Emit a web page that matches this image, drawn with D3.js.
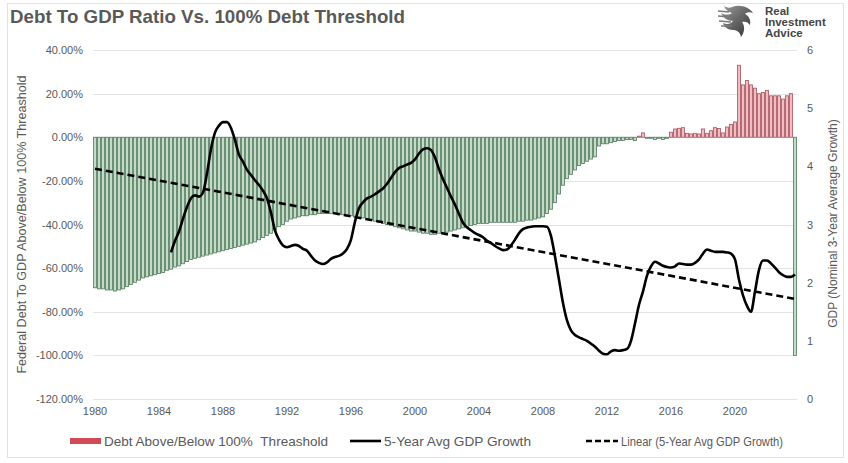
<!DOCTYPE html>
<html>
<head>
<meta charset="utf-8">
<script src="https://cdn.jsdelivr.net/npm/d3@7"></script>
<style>
  html, body { margin: 0; padding: 0; background: #fff; }
  svg { display: block; font-family: "Liberation Sans", Arial, sans-serif; }
</style>
</head>
<body>
<svg id="chart" width="848" height="463"></svg>
<script>
// ---------------- DATA ----------------
const startYear = 1980;
const quarterCount = 176; // 1980Q1 .. 2023Q4
const xTickLabels = ["1980","1984","1988","1992","1996","2000","2004","2008","2012","2016","2020"];
const leftTicks = [40, 20, 0, -20, -40, -60, -80, -100, -120];
const rightTicks = [0, 1, 2, 3, 4, 5, 6];

// Debt above/below 100% threshold (%), quarterly 1980Q1 - 2023Q4
const debtVsThreshold = [
  -69, -69.5, -69.5, -70,      // 1980
  -70, -70.5, -70, -69.5,      // 1981
  -68.5, -67.5, -66.5, -65.5,  // 1982
  -64.5, -64, -63.5, -63,      // 1983
  -62.5, -62, -61, -60.5,      // 1984
  -59.5, -59, -58, -57,        // 1985
  -56, -55.5, -55, -54.5,      // 1986
  -54, -53.5, -53, -52.5,      // 1987
  -52, -51.5, -51, -50.5,      // 1988
  -50, -49.5, -49, -48.5,      // 1989
  -48, -47, -46, -45,          // 1990
  -44, -42.5, -41, -40,        // 1991
  -38.5, -37.5, -37, -36.5,    // 1992
  -36, -36, -35.5, -35.5,      // 1993
  -35, -35, -35, -35,          // 1994
  -35, -35.5, -35.5, -36,      // 1995
  -36, -36.5, -37, -37,        // 1996
  -37.5, -38, -38.5, -39,      // 1997
  -39.5, -40, -40.5, -41,      // 1998
  -41.5, -42, -42.5, -43,      // 1999
  -43, -43.5, -44, -44,        // 2000
  -44.5, -44.5, -44, -44,      // 2001
  -43.5, -43, -42.5, -42,      // 2002
  -41.5, -41, -40.5, -40,      // 2003
  -39.5, -39.5, -39.5, -39,    // 2004
  -39, -39, -39, -39,          // 2005
  -39, -39, -38.5, -38.5,      // 2006
  -38, -38, -37.5, -37,        // 2007
  -36.5, -35, -33, -30,        // 2008
  -26, -22, -19, -17,          // 2009
  -15, -13, -12, -11,          // 2010
  -10, -9, -4, -3,             // 2011
  -3, -2.5, -2, -1.5,          // 2012
  -1.5, -1, -1, -1.5,          // 2013
  0.5, 2, -0.5, -0.5,          // 2014
  -1, -0.5, -1, -0.5,          // 2015
  2.3, 3.8, 4.1, 4.4,          // 2016
  1.8, 1.5, 1.8, 1.5,          // 2017
  3.8, 1.8, 3, 4.4,            // 2018
  4, 2, 4.7, 5.9,              // 2019
  7, 33, 24, 26,               // 2020
  24, 22.5, 20, 20.5,          // 2021
  21.5, 19, 19, 19,            // 2022
  17.5, 19, 20, -100           // 2023
];

// 5-Year Avg GDP Growth, quarterly starting 1984Q4 (index 19)
const gdpStartIndex = 19;
const gdpGrowth = [
  2.52, 2.72, 2.88, 3.10, 3.30, 3.45, 3.50, 3.48, 3.55, 3.88,
  4.30, 4.58, 4.70, 4.76, 4.76, 4.66, 4.45, 4.20, 4.08, 3.94,
  3.85, 3.76, 3.68, 3.58, 3.45, 3.20, 2.90, 2.74, 2.64, 2.61,
  2.63, 2.65, 2.63, 2.58, 2.55, 2.46, 2.38, 2.34, 2.32, 2.35,
  2.41, 2.44, 2.46, 2.50, 2.58, 2.74, 3.05, 3.28, 3.38, 3.45,
  3.48, 3.52, 3.57, 3.62, 3.70, 3.80, 3.90, 3.97, 4.00, 4.03,
  4.06, 4.12, 4.22, 4.29, 4.31, 4.28, 4.15, 3.95, 3.78, 3.63,
  3.48, 3.34, 3.18, 3.03, 2.95, 2.90, 2.85, 2.82, 2.78, 2.72,
  2.68, 2.63, 2.59, 2.56, 2.57, 2.64, 2.74, 2.85, 2.92, 2.95,
  2.96, 2.97, 2.97, 2.97, 2.96, 2.80, 2.45, 2.05, 1.65, 1.35,
  1.18, 1.10, 1.06, 1.03, 1.00, 0.95, 0.90, 0.83, 0.78, 0.77,
  0.82, 0.84, 0.83, 0.84, 0.86, 1.00, 1.30, 1.62, 1.85, 2.12,
  2.28, 2.36, 2.33, 2.29, 2.27, 2.26, 2.28, 2.33, 2.32, 2.31,
  2.31, 2.34, 2.40, 2.50, 2.57, 2.55, 2.53, 2.53, 2.53, 2.52,
  2.50, 2.40, 2.05, 1.78, 1.60, 1.50, 1.85, 2.22, 2.38, 2.38,
  2.33, 2.26, 2.18, 2.13, 2.10, 2.10, 2.14
];

// Linear trend (5-Year Avg GDP Growth), values at first and last category
const trendEnds = [3.96, 1.72];

// Legend labels
const legendLabels = ["Debt Above/Below 100%\u00a0\u00a0Threashold", "5-Year Avg GDP Growth", "Linear (5-Year Avg GDP Growth)"];

// ---------------- BUILD ----------------
const categories = d3.range(quarterCount).map(i => `${startYear + Math.floor(i / 4)}Q${i % 4 + 1}`);
const svg = d3.select("#chart");
const W = 848, H = 463;
const plot = { left: 93, right: 797, top: 50, bottom: 399 };
const FONT = "Liberation Sans, Arial, sans-serif";

svg.append("rect").attr("x", 0).attr("y", 0).attr("width", W).attr("height", H).attr("fill", "#fff");
svg.append("rect").attr("x", 7.5).attr("y", 3.5).attr("width", 836).attr("height", 454)
  .attr("fill", "none").attr("stroke", "#e2e2e2").attr("stroke-width", 1);

const x = d3.scaleBand().domain(categories).range([plot.left, plot.right]).paddingInner(0.25).paddingOuter(0.125);
const yL = d3.scaleLinear().domain([-120, 40]).range([plot.bottom, plot.top]);
const yR = d3.scaleLinear().domain([0, 6]).range([plot.bottom, plot.top]);

// gridlines
svg.append("g").selectAll("line").data(leftTicks).join("line")
  .attr("x1", plot.left).attr("x2", plot.right)
  .attr("y1", d => Math.round(yL(d)) + 0.5).attr("y2", d => Math.round(yL(d)) + 0.5)
  .attr("stroke", "#e3e3e3").attr("stroke-width", 1);

// bars
svg.append("g").selectAll("rect").data(debtVsThreshold).join("rect")
  .attr("x", (d, i) => x(categories[i]))
  .attr("width", x.bandwidth())
  .attr("y", d => yL(Math.max(0, d)))
  .attr("height", d => Math.abs(yL(d) - yL(0)))
  .attr("fill", d => d >= 0 ? "#f2bcc0" : "#c4dbc9")
  .attr("stroke", d => d >= 0 ? "#a85a65" : "#587f61")
  .attr("stroke-width", 0.85);

// GDP line
const gdpPts = gdpGrowth.map((v, k) => ({ c: categories[gdpStartIndex + k], v }));
const line = d3.line()
  .x(d => x(d.c) + x.bandwidth() / 2)
  .y(d => yR(d.v))
  .curve(d3.curveMonotoneX);
svg.append("path").datum(gdpPts).attr("d", line)
  .attr("fill", "none").attr("stroke", "#000").attr("stroke-width", 2.6)
  .attr("stroke-linejoin", "round");

// trend line
const trendPts = [
  { c: categories[0], v: trendEnds[0] },
  { c: categories[quarterCount - 1], v: trendEnds[1] }
];
svg.append("path").datum(trendPts).attr("d", d3.line().x(d => x(d.c) + x.bandwidth() / 2).y(d => yR(d.v)))
  .attr("fill", "none").attr("stroke", "#000").attr("stroke-width", 2.6)
  .attr("stroke-dasharray", "7,4");

// axes
const axisColor = "#595959";
const gL = svg.append("g").attr("transform", `translate(${plot.left - 10},0)`)
  .call(d3.axisLeft(yL).tickValues(leftTicks).tickSize(0).tickPadding(0).tickFormat(d => d.toFixed(2) + "%"));
gL.select(".domain").remove();
gL.selectAll("text").attr("fill", axisColor).style("font-size", "11px").style("font-family", FONT);

const gR = svg.append("g").attr("transform", `translate(${plot.right + 10},0)`)
  .call(d3.axisRight(yR).tickValues(rightTicks).tickSize(0).tickPadding(0).tickFormat(d3.format("d")));
gR.select(".domain").remove();
gR.selectAll("text").attr("fill", axisColor).style("font-size", "11px").style("font-family", FONT);

const xTickCats = xTickLabels.map(y => `${y}Q1`);
const gX = svg.append("g").attr("transform", `translate(0,${plot.bottom + 8})`)
  .call(d3.axisBottom(x).tickValues(xTickCats).tickSize(0).tickPadding(0).tickFormat(c => c.slice(0, 4)));
gX.select(".domain").remove();
gX.selectAll("text").attr("fill", axisColor).style("font-size", "11px").style("font-family", FONT);

// axis titles
svg.append("text").attr("transform", `translate(26,${(plot.top + plot.bottom) / 2}) rotate(-90)`)
  .attr("text-anchor", "middle").attr("fill", axisColor).style("font-size", "12.6px")
  .text("Federal Debt To GDP Above/Below 100% Threashold");
svg.append("text").attr("transform", `translate(837,${(plot.top + plot.bottom) / 2 - 1}) rotate(-90)`)
  .attr("text-anchor", "middle").attr("fill", axisColor).style("font-size", "12px")
  .text("GDP (Nominal 3-Year Average Growth)");

// title
svg.append("text").attr("x", 10).attr("y", 23).attr("fill", "#595959")
  .style("font-size", "18.6px").style("font-weight", "bold")
  .attr("textLength", 395).attr("lengthAdjust", "spacingAndGlyphs")
  .text("Debt To GDP Ratio Vs. 100% Debt Threshold");

// logo
const logo = svg.append("g").attr("transform", "translate(718,3)");
const grad = svg.append("defs").append("linearGradient").attr("id", "lg").attr("x1", "0").attr("y1", "0").attr("x2", "1").attr("y2", "1");
grad.append("stop").attr("offset", "0").attr("stop-color", "#9a9a9a");
grad.append("stop").attr("offset", "1").attr("stop-color", "#2e2e2e");
logo.append("path").attr("d", "M14,4 C22,1 31,4 35,10 C32,9 29,9 27,11 C31,13 33,17 32,22 C30,19 27,18 24,19 C27,23 27,29 23,34 C22,29 19,27 15,27 C10,27 6,24 5,20 C9,22 13,21 15,18 C10,18 5,15 3,10 C7,12 11,12 14,10 C10,9 7,6 6,3 C9,5 12,5 14,4 Z")
  .attr("fill", "url(#lg)");
logo.append("path").attr("d", "M0,8 L11,9 M0,13 L12,14 M1,18 L13,19 M3,23 L14,23")
  .attr("stroke", "#7a7a7a").attr("stroke-width", 1.6).attr("fill", "none");
const logoText = ["Real", "Investment", "Advice"];
svg.append("g").selectAll("text").data(logoText).join("text")
  .attr("x", 765).attr("y", (d, i) => 15 + i * 11)
  .attr("fill", "#454545").style("font-size", "11.5px").style("font-weight", "bold")
  .text(d => d);

// legend
const ly = 441;
const leg = svg.append("g");
leg.append("rect").attr("x", 70).attr("y", ly - 3).attr("width", 31).attr("height", 6).attr("fill", "#d24a55");
leg.append("text").attr("x", 104).attr("y", ly + 4.5).attr("fill", axisColor).style("font-size", "13.5px")
  .attr("textLength", 224).attr("lengthAdjust", "spacingAndGlyphs")
  .text(legendLabels[0]);
leg.append("line").attr("x1", 350).attr("x2", 381).attr("y1", ly).attr("y2", ly).attr("stroke", "#000").attr("stroke-width", 2.6);
leg.append("text").attr("x", 384).attr("y", ly + 4.5).attr("fill", axisColor).style("font-size", "13.5px")
  .attr("textLength", 147).attr("lengthAdjust", "spacingAndGlyphs")
  .text(legendLabels[1]);
leg.append("line").attr("x1", 586).attr("x2", 618).attr("y1", ly).attr("y2", ly).attr("stroke", "#000").attr("stroke-width", 2.6).attr("stroke-dasharray", "6,3");
leg.append("text").attr("x", 621).attr("y", ly + 4.5).attr("fill", axisColor).style("font-size", "13.5px")
  .attr("textLength", 162).attr("lengthAdjust", "spacingAndGlyphs")
  .text(legendLabels[2]);
</script>
</body>
</html>
